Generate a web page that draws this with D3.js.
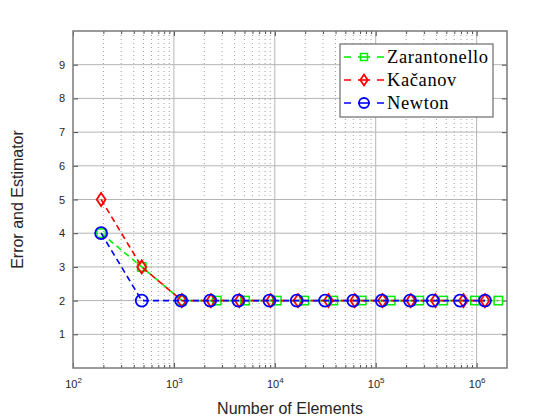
<!DOCTYPE html>
<html>
<head>
<meta charset="utf-8">
<script src="https://cdn.jsdelivr.net/npm/d3@7"></script>
<style>
  body { margin: 0; background: #fff; }
  .tick text { font-family: "Liberation Sans", Arial, sans-serif; }
</style>
</head>
<body>
<div class="chart"></div>
<script>
// values
var zarantonelloN = [190, 480, 1200, 2660, 5080, 10470, 19600, 38000, 72700, 140800, 270000, 467000, 962000, 1640000];
var zarantonelloErr = [4, 3, 2, 2, 2, 2, 2, 2, 2, 2, 2, 2, 2, 2];
var kacanovN = [190, 480, 1200, 2330, 4450, 9100, 17000, 34000, 62000, 117000, 223000, 390000, 740000, 1210000];
var kacanovErr = [5, 3, 2, 2, 2, 2, 2, 2, 2, 2, 2, 2, 2, 2];
var newtonN = [190, 480, 1180, 2290, 4360, 8850, 16500, 31500, 60000, 115000, 219000, 367000, 684000, 1210000];
var newtonErr = [4, 2, 2, 2, 2, 2, 2, 2, 2, 2, 2, 2, 2, 2];

var xTicks = [1e2, 1e3, 1e4, 1e5, 1e6];
var xTickExp = ["2", "3", "4", "5", "6"];
var yTicks = [1, 2, 3, 4, 5, 6, 7, 8, 9];
var seriesNames = ["Zarantonello", "Kačanov", "Newton"];
var seriesColors = ["#00ee00", "#ff0000", "#0000ff"];
var seriesMarkers = ["square", "diamond", "circle"];

var svgWidth = 560;
var svgHeight = 420;
var margin = { top: 31, right: 53, bottom: 52, left: 73 };
var width = svgWidth - margin.left - margin.right;
var height = svgHeight - margin.top - margin.bottom;

var svg = d3.select(".chart")
    .append("svg")
    .attr("width", svgWidth)
    .attr("height", svgHeight);

var chartGroup = svg.append("g")
    .attr("transform", `translate(${margin.left}, ${margin.top})`);

var x = d3.scaleLog().domain([1e2, 2e6]).range([0, width]);
var y = d3.scaleLinear().domain([0, 10]).range([height, 0]);

// minor values 2..9 per decade
var minorTicks = [];
for (var e = 2; e <= 6; e++) {
    for (var m = 2; m <= 9; m++) {
        var v = m * Math.pow(10, e);
        if (v < 2e6) minorTicks.push(v);
    }
}

// grid
chartGroup.append("g").selectAll("line")
    .data(minorTicks)
    .enter().append("line")
    .attr("x1", d => x(d)).attr("x2", d => x(d))
    .attr("y1", 0).attr("y2", height)
    .attr("stroke", "#a0a0a0")
    .attr("stroke-width", 1)
    .attr("stroke-dasharray", "1,3");

chartGroup.append("g").selectAll("line")
    .data(xTicks.slice(1))
    .enter().append("line")
    .attr("x1", d => x(d)).attr("x2", d => x(d))
    .attr("y1", 0).attr("y2", height)
    .attr("stroke", "#b4b4b4")
    .attr("stroke-width", 1);

chartGroup.append("g").selectAll("line")
    .data(yTicks)
    .enter().append("line")
    .attr("x1", 0).attr("x2", width)
    .attr("y1", d => y(d)).attr("y2", d => y(d))
    .attr("stroke", "#b4b4b4")
    .attr("stroke-width", 1);

// axes (ticks inside)
var bottomAxis = d3.axisBottom(x).tickValues(xTicks).tickSize(-5).tickFormat("").tickPadding(8);
var leftAxis = d3.axisLeft(y).tickValues(yTicks).tickSize(-5).tickPadding(8);
var topAxis = d3.axisTop(x).tickValues(xTicks).tickSize(-5).tickFormat("");
var rightAxis = d3.axisRight(y).tickValues(yTicks).tickSize(-5).tickFormat("");

var xAxisG = chartGroup.append("g")
    .attr("transform", `translate(0, ${height})`)
    .call(bottomAxis);
chartGroup.append("g").call(topAxis);
chartGroup.append("g").attr("transform", `translate(${width}, 0)`).call(rightAxis);
var yAxisG = chartGroup.append("g").call(leftAxis);

// minor ticks
chartGroup.append("g").call(d3.axisBottom(x).tickValues(minorTicks).tickSize(-3).tickFormat(""))
    .attr("transform", `translate(0, ${height})`);
chartGroup.append("g").call(d3.axisTop(x).tickValues(minorTicks).tickSize(-3).tickFormat(""));

chartGroup.selectAll(".domain").remove();
chartGroup.selectAll(".tick line").attr("stroke", "#4d4d4d");

yAxisG.selectAll(".tick text")
    .style("font-size", "11px")
    .attr("fill", "#262626");

// x tick labels with superscript
var xl = xAxisG.selectAll(".tick").append("text")
    .attr("y", 20)
    .attr("text-anchor", "middle")
    .attr("fill", "#262626")
    .style("font-family", "Liberation Sans, Arial, sans-serif")
    .style("font-size", "11px");
xl.append("tspan").text("10");
xl.append("tspan")
    .attr("dy", "-5")
    .style("font-size", "8px")
    .text((d, i) => xTickExp[i]);

// box
chartGroup.append("rect")
    .attr("width", width)
    .attr("height", height)
    .attr("fill", "none")
    .attr("stroke", "#7a7a7a")
    .attr("stroke-width", 1.5);

// markers
function drawMarker(g, kind, cx, cy, color, s) {
    if (kind === "circle") {
        g.append("circle").attr("cx", cx).attr("cy", cy).attr("r", s * 0.5)
            .attr("fill", "none").attr("stroke", color).attr("stroke-width", 1.8);
    } else if (kind === "square") {
        g.append("rect").attr("x", cx - s * 0.35).attr("y", cy - s * 0.35)
            .attr("width", s * 0.7).attr("height", s * 0.7)
            .attr("fill", "none").attr("stroke", color).attr("stroke-width", 1.5);
    } else {
        var hw = s * 0.37, hh = s * 0.55;
        g.append("path")
            .attr("d", `M${cx},${cy - hh}L${cx + hw},${cy}L${cx},${cy + hh}L${cx - hw},${cy}Z`)
            .attr("fill", "none").attr("stroke", color).attr("stroke-width", 1.8);
    }
}

var seriesN = [zarantonelloN, kacanovN, newtonN];
var seriesErr = [zarantonelloErr, kacanovErr, newtonErr];

var line = d3.line()
    .x(d => x(d[0]))
    .y(d => y(d[1]));

seriesN.forEach(function(ns, k) {
    var pts = ns.map((n, i) => [n, seriesErr[k][i]]);
    var g = chartGroup.append("g");
    g.append("path")
        .datum(pts)
        .attr("d", line)
        .attr("fill", "none")
        .attr("stroke", seriesColors[k])
        .attr("stroke-width", 1.6)
        .attr("stroke-dasharray", "6,4");
    pts.forEach(function(p) {
        drawMarker(g, seriesMarkers[k], x(p[0]), y(p[1]), seriesColors[k], 12);
    });
});

// legend
var legend = svg.append("g").attr("transform", "translate(340, 44)");
legend.append("rect")
    .attr("width", 153)
    .attr("height", 73)
    .attr("fill", "#fff")
    .attr("stroke", "#6b6b6b")
    .attr("stroke-width", 1.2);

seriesNames.forEach(function(name, k) {
    var row = legend.append("g").attr("transform", `translate(0, ${13 + k * 23})`);
    row.append("line")
        .attr("x1", 4).attr("x2", 44)
        .attr("stroke", seriesColors[k])
        .attr("stroke-width", 1.6)
        .attr("stroke-dasharray", "7,26,7");
    row.append("line")
        .attr("x1", 18).attr("x2", 30)
        .attr("stroke", seriesColors[k])
        .attr("stroke-width", 1.6);
    drawMarker(row, seriesMarkers[k], 24, 0, seriesColors[k], 10);
    row.append("text")
        .attr("x", 47)
        .attr("y", 6)
        .style("font-family", "Liberation Serif, Times New Roman, serif")
        .style("font-size", "18.5px")
        .style("letter-spacing", "0.6px")
        .attr("fill", "#000")
        .text(name);
});

// axis titles
svg.append("text")
    .attr("transform", "rotate(-90)")
    .attr("x", -(margin.top + height / 2))
    .attr("y", 23)
    .attr("text-anchor", "middle")
    .style("font-family", "Liberation Sans, Arial, sans-serif")
    .style("font-size", "16px")
    .attr("fill", "#262626")
    .text("Error and Estimator");

svg.append("text")
    .attr("x", margin.left + width / 2)
    .attr("y", 414)
    .attr("text-anchor", "middle")
    .style("font-family", "Liberation Sans, Arial, sans-serif")
    .style("font-size", "16px")
    .attr("fill", "#262626")
    .text("Number of Elements");
</script>
</body>
</html>
